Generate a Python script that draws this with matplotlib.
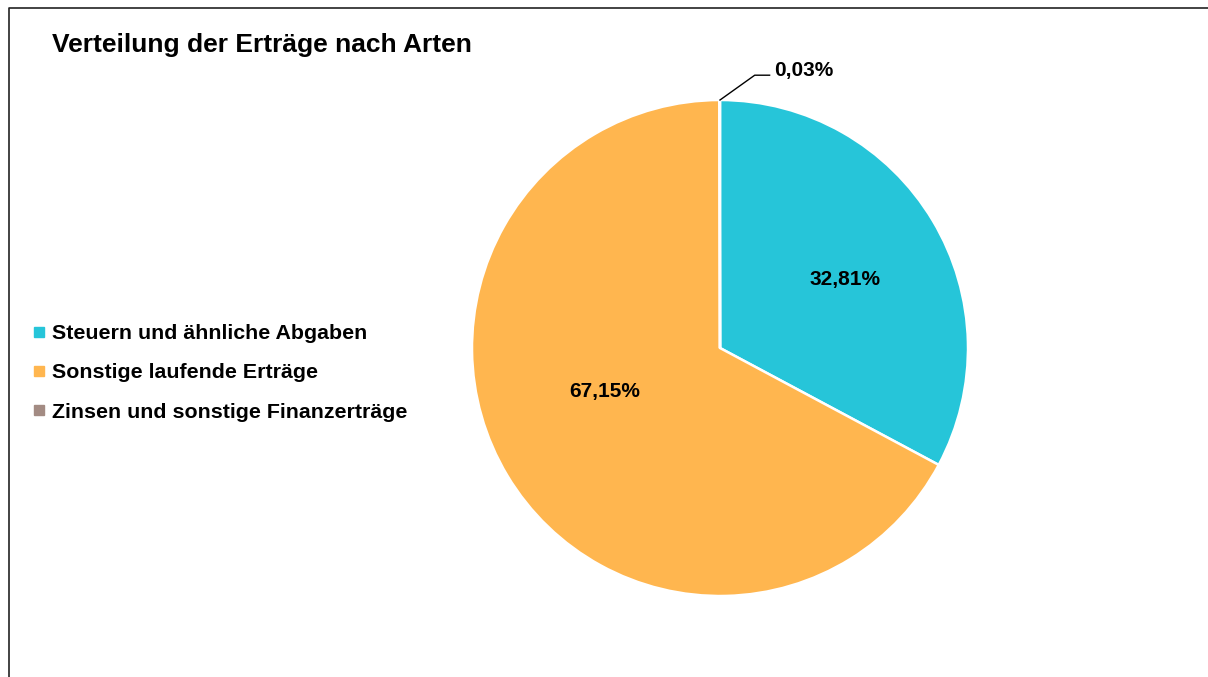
import matplotlib.pyplot as plt
from matplotlib.lines import Line2D

plt.rcParams['font.family'] = ['Liberation Sans', 'DejaVu Sans']

categories = ["Steuern und ähnliche Abgaben",
              "Sonstige laufende Erträge",
              "Zinsen und sonstige Finanzerträge"]
shares = [32.81, 67.15, 0.03]
colors = ["#26C5D9", "#FFB64F", "#A38B83"]

fig = plt.figure(figsize=(12.08, 6.77), dpi=100)

# outer frame (top and left edge only, the rest is cut off)
fig.add_artist(Line2D([9 / 1208, 9 / 1208, 1.0], [0.0, 1 - 8 / 677, 1 - 8 / 677],
                      transform=fig.transFigure, color="#222222", lw=1.2))

fig.text(52 / 1208, 1 - 45 / 677, "Verteilung der Erträge nach Arten",
         fontsize=19, fontweight="bold", va="center", ha="left")

ax = fig.add_axes([(720 - 248) / 1208, (677 - 348 - 248) / 677, 496 / 1208, 496 / 677])
wedges, _ = ax.pie(shares, colors=colors, startangle=90, counterclock=False,
                   wedgeprops=dict(edgecolor="white", linewidth=1.8))
ax.set_xlim(-1, 1)
ax.set_ylim(-1, 1)
ax.set_aspect("equal")
ax.axis("off")

def fmt(v):
    return f"{v:.2f}".replace(".", ",") + "%"

ax.text(0.504, 0.278, fmt(shares[0]), fontsize=15, fontweight="bold",
        ha="center", va="center")
ax.text(-0.464, -0.177, fmt(shares[1]), fontsize=15, fontweight="bold",
        ha="center", va="center")

# leader line for the tiny slice
ax.plot([0.0, 0.14, 0.2], [1.0, 1.1, 1.1], color="black", lw=1, clip_on=False)
ax.text(0.22, 1.12, fmt(shares[2]), fontsize=15, fontweight="bold",
        ha="left", va="center")

handles = [plt.Line2D([], [], marker="s", linestyle="", color=c, markersize=7)
           for c in colors]
fig.legend(handles, categories, loc="center left",
           bbox_to_anchor=(25 / 1208, 1 - 373 / 677), frameon=False,
           prop=dict(size=15.4, weight="bold"), handlelength=0.5,
           handletextpad=0.35, labelspacing=0.95, borderaxespad=0)

fig.savefig("out.png", dpi=100, facecolor="white")
